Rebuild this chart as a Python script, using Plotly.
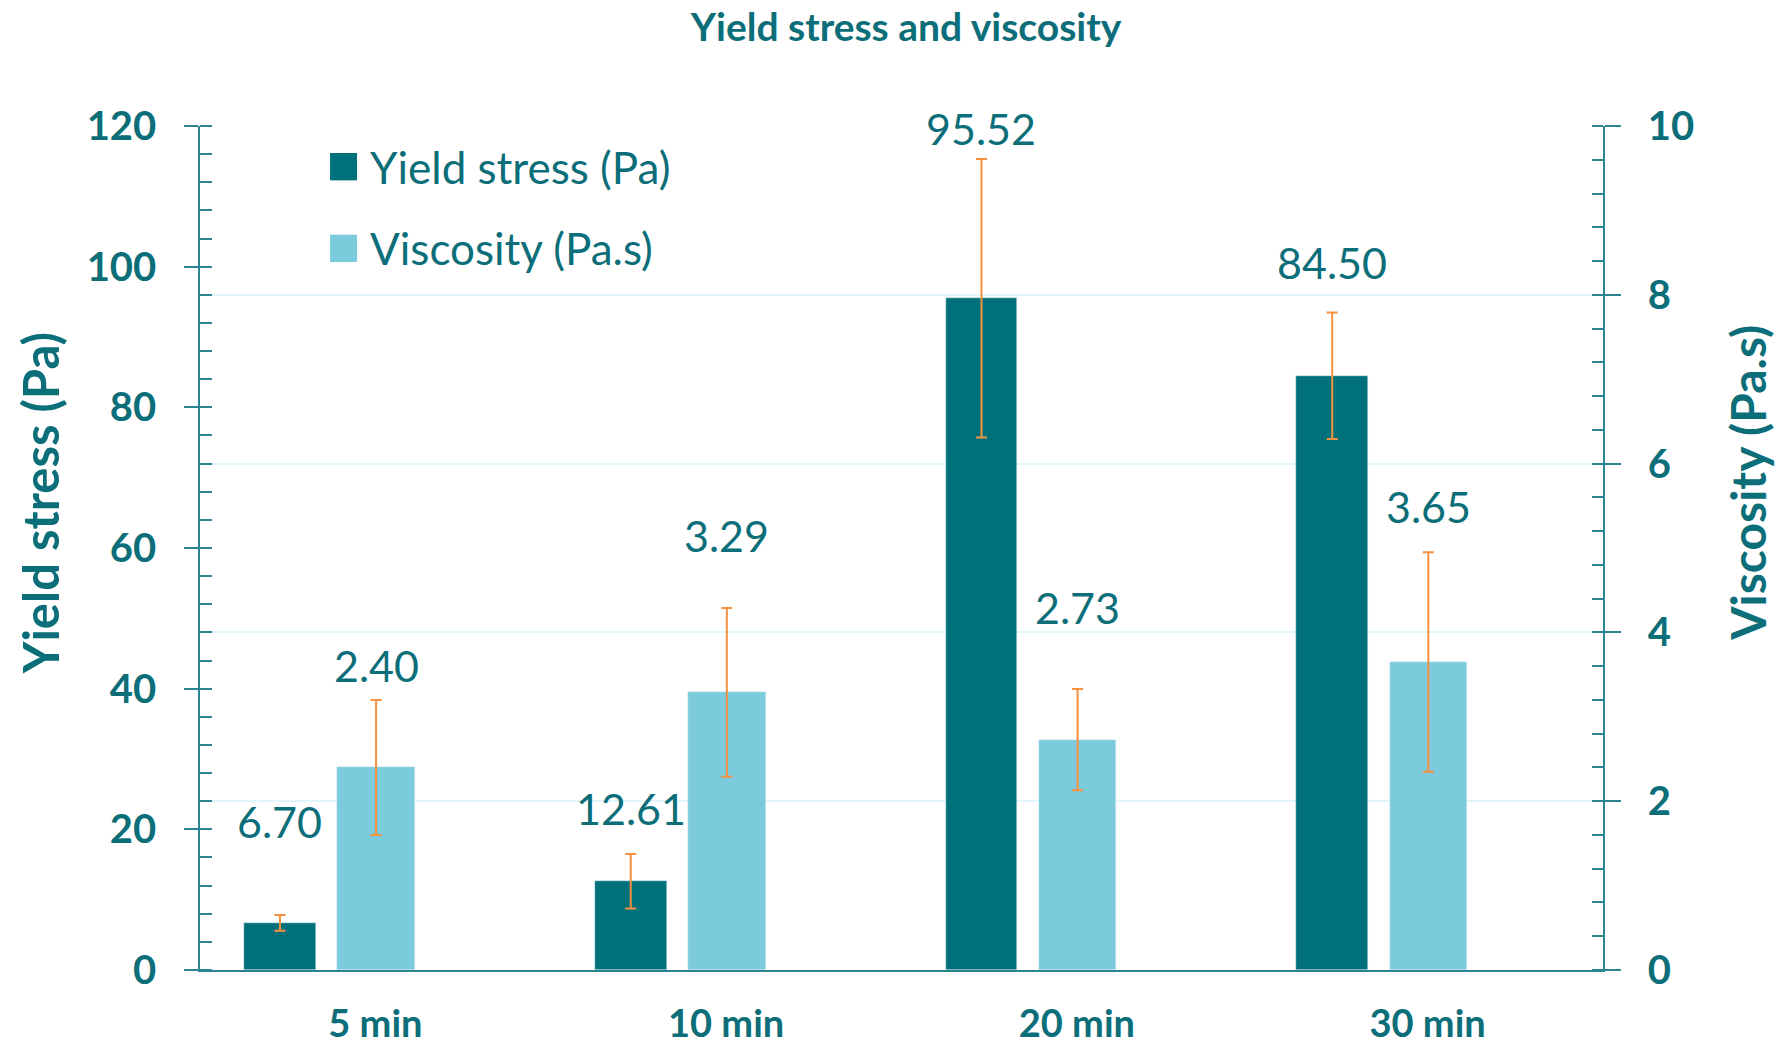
import plotly.graph_objects as go

categories = ["5 min", "10 min", "20 min", "30 min"]
yield_stress = [6.70, 12.61, 95.52, 84.50]
yield_err = [1.13, 3.88, 19.8, 9.0]
viscosity = [2.40, 3.29, 2.73, 3.65]
visc_err = [0.80, 1.00, 0.60, 1.30]
yield_labels = ["6.70", "12.61", "95.52", "84.50"]
visc_labels = ["2.40", "3.29", "2.73", "3.65"]

# styling / placement
DARK = "#00707A"
LIGHT = "#7BCBDC"
TXT = "#0B6E79"
ERR = "#F7913F"
AX = "#2A8591"
GRID = "#E0F6FA"
FONT = "Lato"

Y_W, Y_C = 0.205, -0.272   # yield bar width, centre shift (category units)
V_W, V_C = 0.221, 0.002
yield_lbl_shift = [101, 73, 170, 113]
visc_lbl_shift = [102, 157, 132, 155]

fig = go.Figure()
fig.add_trace(go.Bar(
    x=categories, y=yield_stress, name="Yield stress (Pa)",
    marker=dict(color=DARK), width=Y_W, offset=Y_C - Y_W / 2,
    error_y=dict(type="data", array=yield_err, color=ERR, thickness=2, width=5.5),
    yaxis="y", showlegend=False))
fig.add_trace(go.Bar(
    x=categories, y=viscosity, name="Viscosity (Pa.s)",
    marker=dict(color=LIGHT), width=V_W, offset=V_C - V_W / 2,
    error_y=dict(type="data", array=visc_err, color=ERR, thickness=2, width=5.5),
    yaxis="y2", showlegend=False))

annotations = []
for i, (v, t, s) in enumerate(zip(yield_stress, yield_labels, yield_lbl_shift)):
    annotations.append(dict(x=i + Y_C, y=v, xref="x", yref="y", text=t, showarrow=False,
                            yshift=s, yanchor="middle", font=dict(family=FONT, size=43, color=TXT)))
for i, (v, t, s) in enumerate(zip(viscosity, visc_labels, visc_lbl_shift)):
    annotations.append(dict(x=i + V_C, y=v, xref="x", yref="y2", text=t, showarrow=False,
                            yshift=s, yanchor="middle", font=dict(family=FONT, size=43, color=TXT)))

# axis titles
annotations.append(dict(x=-0.114, y=0.553, xref="paper", yref="paper", text="<b>Yield stress (Pa)</b>",
                        textangle=-90, showarrow=False, xanchor="center", yanchor="middle",
                        font=dict(family=FONT, size=49, color=TXT)))
annotations.append(dict(x=1.1025, y=0.577, xref="paper", yref="paper", text="<b>Viscosity (Pa.s)</b>",
                        textangle=-90, showarrow=False, xanchor="center", yanchor="middle",
                        font=dict(family=FONT, size=48, color=TXT)))

# manual legend
legend_items = [("Yield stress (Pa)", DARK, 0.9518), ("Viscosity (Pa.s)", LIGHT, 0.855)]
shapes = []
for name, col, yc in legend_items:
    shapes.append(dict(type="rect", xref="paper", yref="paper", x0=0.0927, x1=0.1119,
                       y0=yc - 0.0162, y1=yc + 0.0162, fillcolor=col, line=dict(width=0)))
    annotations.append(dict(x=0.1197, y=yc, xref="paper", yref="paper", text=name, showarrow=False,
                            xanchor="left", yanchor="middle", font=dict(family=FONT, size=44, color=TXT)))

tickfont_y = dict(family=FONT, size=40, color=TXT, weight="bold")
fig.update_layout(
    width=1780, height=1045,
    margin=dict(l=200, r=177, t=126, b=75, autoexpand=False),
    plot_bgcolor="white", paper_bgcolor="white",
    title=dict(text="<b>Yield stress and viscosity</b>", x=0.509, xanchor="center",
               y=0.974, yanchor="middle", font=dict(family=FONT, size=39, color=TXT)),
    xaxis=dict(type="category", range=[-0.5, 3.5], showline=True, linecolor=AX, linewidth=1.5,
               ticks="", tickfont=dict(family=FONT, size=38, color=TXT, weight="bold"),
               ticklabelstandoff=20, automargin=False,
               showgrid=False, zeroline=False),
    yaxis=dict(range=[0, 120], dtick=20, showline=True, linecolor=AX, linewidth=1.5,
               ticks="outside", ticklen=14, tickcolor=AX, tickwidth=1.5,
               minor=dict(ticks="inside", ticklen=12, dtick=4, tickcolor=AX, tickwidth=1.5, showgrid=False),
               tickfont=tickfont_y, ticklabelstandoff=20, automargin=False,
               showgrid=False, zeroline=False),
    yaxis2=dict(range=[0, 10], dtick=2, overlaying="y", side="right", showline=True, linecolor=AX,
                linewidth=1.5, ticks="outside", ticklen=16, tickcolor=AX, tickwidth=1.5,
                minor=dict(ticks="inside", ticklen=11, dtick=0.4, tickcolor=AX, tickwidth=1.5, showgrid=False),
                tickfont=tickfont_y, ticklabelstandoff=19, automargin=False,
                showgrid=True, gridcolor=GRID, gridwidth=2, zeroline=False),
    yaxis3=dict(range=[0, 120], dtick=20, overlaying="y", side="left", showline=False,
                ticks="inside", ticklen=12, tickcolor=AX, tickwidth=1.5, showticklabels=False,
                showgrid=False, zeroline=False, automargin=False),
    yaxis4=dict(range=[0, 10], dtick=2, overlaying="y", side="right", showline=False,
                ticks="inside", ticklen=11, tickcolor=AX, tickwidth=1.5, showticklabels=False,
                showgrid=False, zeroline=False, automargin=False),
    annotations=annotations, shapes=shapes,
    bargap=0,
)
fig.write_html("out.html", config={"displayModeBar": False},
               post_script="document.body.style.margin='0px';document.body.style.overflow='hidden';")
